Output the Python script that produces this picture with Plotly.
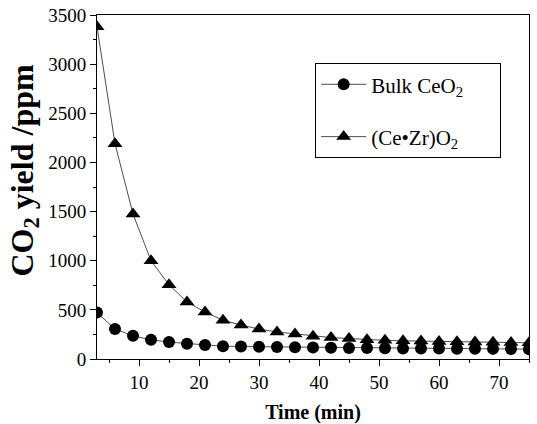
import plotly.graph_objects as go

time_min = [3, 6, 9, 12, 15, 18, 21, 24, 27, 30, 33, 36, 39, 42, 45, 48, 51, 54, 57, 60, 63, 66, 69, 72, 75]
bulk_ceo2 = [472, 305, 236, 195, 172, 156, 143, 130, 127, 125, 122, 120, 118, 115, 113, 112, 110, 108, 107, 106, 105, 104, 103, 102, 100]
ce_zr_o2 = [3380, 2190, 1476, 1000, 755, 580, 478, 395, 345, 305, 275, 255, 232, 218, 208, 196, 190, 185, 182, 178, 175, 172, 170, 167, 165]

x_ticks = [10, 20, 30, 40, 50, 60, 70]
y_ticks = [0, 500, 1000, 1500, 2000, 2500, 3000, 3500]

FONT = "Liberation Serif, Times New Roman, serif"
PAD = "\u00a0" * 6

fig = go.Figure()
fig.add_trace(go.Scatter(
    x=time_min, y=bulk_ceo2, mode="lines+markers", name="Bulk CeO<sub>2</sub>" + PAD,
    line=dict(color="black", width=0.7),
    marker=dict(symbol="circle", size=12, color="black"),
    legendgroup="a",
))
fig.add_trace(go.Scatter(
    x=time_min, y=ce_zr_o2, mode="lines+markers", name="(Ce•Zr)O<sub>2</sub>" + PAD,
    line=dict(color="black", width=0.7),
    marker=dict(symbol="triangle-up", size=13, color="black"),
    legendgroup="b",
))

fig.update_layout(
    width=537, height=424,
    margin=dict(l=97, r=8, t=15, b=65),
    paper_bgcolor="white", plot_bgcolor="white",
    font=dict(family=FONT, color="black", size=19),
    showlegend=True,
    legend=dict(
        x=0.505, y=0.86, xanchor="left", yanchor="top",
        bordercolor="black", borderwidth=1, bgcolor="white",
        font=dict(size=21, family=FONT),
        tracegroupgap=22,
        traceorder="grouped",
        itemwidth=45,
    ),
    xaxis=dict(
        range=[3, 75], tickvals=x_ticks, showgrid=False, zeroline=False,
        showline=True, linecolor="black", linewidth=1, mirror=True,
        ticks="outside", ticklen=6, tickcolor="black", tickwidth=1,
        minor=dict(dtick=5, tick0=0, ticks="outside", ticklen=3, tickcolor="black", showgrid=False),
        tickfont=dict(size=19), automargin=False,
        title=dict(text="Time (min)", font=dict(size=20, weight="bold"), standoff=15),
    ),
    yaxis=dict(
        range=[0, 3500], tickvals=y_ticks, showgrid=False, zeroline=False,
        showline=True, linecolor="black", linewidth=1, mirror=True,
        ticks="outside", ticklen=6, tickcolor="black", tickwidth=1,
        minor=dict(dtick=250, tick0=0, ticks="outside", ticklen=3, tickcolor="black", showgrid=False),
        tickfont=dict(size=19), automargin=False,
    ),
    annotations=[dict(
        text="CO<sub>2</sub> yield /ppm", textangle=-90,
        xref="paper", yref="paper", x=0, y=0.548, xanchor="center", yanchor="middle",
        xshift=-73, showarrow=False,
        font=dict(size=32, weight="bold", family=FONT, color="black"),
    )],
)

fig.write_html("out.html", config={"displayModeBar": False},
               post_script="document.body.style.margin='0px';")
